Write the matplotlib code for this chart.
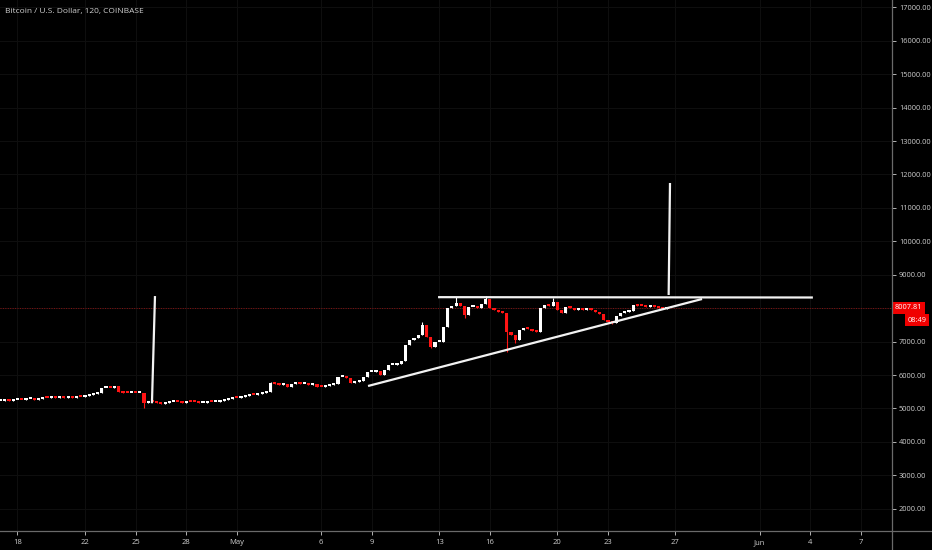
import numpy as np
import matplotlib.pyplot as plt
from matplotlib.lines import Line2D

plt.rcParams['font.family'] = ['Open Sans', 'DejaVu Sans']

title = "Bitcoin / U.S. Dollar, 120, COINBASE"

# candle times in days counted from Apr 18 00:00, one candle every 6 hours
first_day = -1.0
step = 0.25

closes = [
    5230, 5245, 5220, 5250, 5260, 5240, 5270, 5280, 5260, 5290,
    5310, 5300, 5330, 5320, 5340, 5310, 5330, 5320, 5345, 5330,
    5360, 5400, 5440, 5470, 5610, 5620, 5600, 5660, 5480, 5470,
    5450, 5470, 5460, 5475, 5160, 5210, 5190, 5150, 5130, 5160,
    5180, 5200, 5190, 5170, 5200, 5190, 5180, 5160, 5170, 5190,
    5180, 5200, 5230, 5260, 5290, 5320, 5310, 5330, 5370, 5400,
    5390, 5420, 5450, 5480, 5760, 5730, 5700, 5740, 5640, 5720,
    5770, 5730, 5740, 5710, 5720, 5650, 5640, 5680, 5700, 5720,
    5940, 5950, 5920, 5770, 5800, 5830, 5950, 6080, 6100, 6110,
    6000, 6150, 6290, 6300, 6320, 6420, 6900, 7050, 7100, 7200,
    7500, 7150, 6850, 7000, 7000, 7450, 8000, 8060, 8150, 8080,
    7800, 8030, 8050, 8000, 8120, 8280, 8000, 7950, 7900, 7850,
    7280, 7200, 7050, 7350, 7400, 7380, 7330, 7300, 8020, 8100,
    8060, 8180, 7950, 7850, 8050, 8000, 7960, 7980, 7950, 7990,
    7950, 7880, 7820, 7650, 7580, 7560, 7780, 7850, 7900, 7920,
    8100, 8080, 8060, 8050, 8070, 8040, 8010, 7990, 8008,
]

# visible wicks (candle index -> price)
wick_highs = {27: 5680, 64: 5790, 100: 7600, 108: 8330, 115: 8350, 131: 8300}
wick_lows = {34: 5010, 102: 6800, 110: 7700, 120: 6700, 122: 6950, 145: 7530}

tick_days = [0, 4, 7, 10, 13, 18, 21, 25, 28, 32, 35, 39, 44, 47, 50]
tick_labels = ['18', '22', '25', '28', 'May', '6', '9', '13', '16', '20',
               '23', '27', 'Jun', '4', '7']
price_ticks = list(range(2000, 18000, 1000))

last_price = 8007.81
countdown = "08:49"

# user drawn lines: (days, prices)
drawings = {
    "spike_left": ([7.97, 8.15], [5156, 8363]),
    "spike_right": ([38.60, 38.68], [8395, 11745]),
    "resistance": ([24.93, 47.15], [8330, 8320]),
    "support": ([20.78, 40.58], [5673, 8275]),
}

BG = '#000000'
TXT = '#cfcfcf'
AXC = '#6a6a6a'
UP = '#ffffff'
DOWN = '#ff1414'

fig = plt.figure(figsize=(9.32, 5.5), dpi=100, facecolor=BG)
ax = fig.add_axes([0, 19 / 550, 892 / 932, 531 / 550])
ax.set_facecolor(BG)

c = np.array(closes, dtype=float)
o = np.concatenate([[c[0]], c[:-1]])
t = first_day + step * np.arange(len(c))
hi = np.maximum(o, c)
lo = np.minimum(o, c)
for i, v in wick_highs.items():
    hi[i] = v
for i, v in wick_lows.items():
    lo[i] = v
colors = np.where(c >= o, UP, DOWN)
body_lo = np.minimum(o, c)
body_h = np.maximum(np.abs(c - o), 60)

ax.vlines(t, lo, hi, colors=colors, linewidth=0.8, zorder=3)
ax.bar(t, body_h, bottom=body_lo, width=step * 0.75, color=colors,
       linewidth=0, zorder=3)

for name, (xs, ys) in drawings.items():
    ax.plot(xs, ys, color='#f2f2f2', linewidth=1.6, solid_capstyle='butt', zorder=4)

ax.axhline(last_price, color='#8a1010', linewidth=0.7, linestyle=(0, (1, 1.5)), zorder=2)

ax.set_xlim(-1.037, 51.84)
ax.set_ylim(1336, 17218)
ax.set_xticks(tick_days)
ax.set_xticklabels(tick_labels)
ax.yaxis.tick_right()
ax.set_yticks(price_ticks)
ax.set_yticklabels([f'{p:.2f}' for p in price_ticks])
ax.tick_params(axis='y', colors=TXT, labelsize=5.3, length=3, width=0.6, pad=2)
ax.tick_params(axis='x', colors=TXT, labelsize=5.5, length=3, width=0.6, pad=3)
for tk in ax.get_xticklines() + ax.get_yticklines():
    tk.set_color(AXC)
# the last price label covers the tick label that sits under it
for p, lab in zip(price_ticks, ax.get_yticklabels()):
    if abs(p - last_price) < 300:
        lab.set_visible(False)
ax.grid(color='#0e0e0e', linewidth=0.8)
ax.set_axisbelow(True)
for s in ax.spines.values():
    s.set_visible(False)

# axis cross lines
fig.add_artist(Line2D([0, 1], [19 / 550, 19 / 550], transform=fig.transFigure,
                      color=AXC, linewidth=0.9))
fig.add_artist(Line2D([892 / 932, 892 / 932], [0, 1], transform=fig.transFigure,
                      color=AXC, linewidth=0.9))

# last price and countdown labels
ax.annotate(f'{last_price:.2f}', xy=(1, last_price), xycoords=('axes fraction', 'data'),
            xytext=(1.9, 0), textcoords='offset points', ha='left', va='center',
            fontsize=5.3, color='white', annotation_clip=False, zorder=6,
            bbox=dict(boxstyle='square,pad=0.35', fc='#f00000', ec='none'))
ax.annotate(countdown, xy=(1, last_price), xycoords=('axes fraction', 'data'),
            xytext=(24.6, -8.8), textcoords='offset points', ha='right', va='center',
            fontsize=5.3, color='white', annotation_clip=False, zorder=6,
            bbox=dict(boxstyle='square,pad=0.35', fc='#f00000', ec='none'))

fig.text(5 / 932, 1 - 11 / 550, title, ha='left', va='center', fontsize=6.0, color=TXT)

fig.savefig('out.png', dpi=100, facecolor=BG)
plt.close(fig)
